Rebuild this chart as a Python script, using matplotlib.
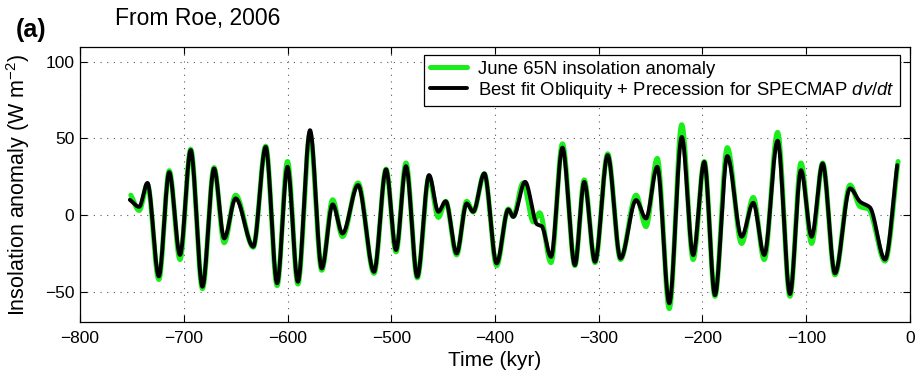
import numpy as np
import matplotlib
matplotlib.use("Agg")
import matplotlib.pyplot as plt

plt.rcParams['font.family'] = ['Liberation Sans', 'DejaVu Sans']
plt.rcParams['mathtext.fontset'] = 'custom'
plt.rcParams['mathtext.rm'] = 'Liberation Sans'
plt.rcParams['mathtext.it'] = 'Liberation Sans:italic'

# ---- data (turning points of each curve) ----
t_fit = [-752, -743, -735, -724, -714, -703.6, -693.3, -682, -670.8, -661, -650, -633,
         -621, -610, -600, -590, -578.3, -567, -556.5, -547, -532, -516.6, -505, -495.4,
         -485.8, -474.9, -463.6, -454.6, -447.5, -437, -427.3, -421, -410.3, -398.4,
         -387.2, -382.4, -371, -359.5, -355, -346, -335, -323, -314, -303.6, -291.4,
         -279, -264, -254.5, -243.6, -232, -220, -209, -198.3, -188, -176.1, -162.3,
         -151.1, -140.5, -127.6, -115.7, -105.1, -94.8, -84.2, -72.3, -57.8, -48, -38.6,
         -24.1, -12.3]
v_fit = [10, 5.4, 21, -40, 28, -26, 42.4, -46.7, 30.4, -15.2, 10.9, -20.6,
         44.5, -44.5, 31.5, -43.5, 55.4, -34.8, 7, -12, 19.6, -37, 29.8, -22.8,
         31.9, -40.2, 26.1, 2.2, 9, -25, 7.6, 2.2, 27.2, -31.5,
         3.7, -1.1, 21.7, -6, -7.2, -27.2, 44, -32.6, 21.7, -30.4, 39.1,
         -28.3, 9.8, -2.2, 31.5, -57.6, 51, -26.1, 34.7, -52.2, 38.5, -14.1,
         8, -26, 48.5, -51.5, 29.3, -14.1, 33.7, -38, 17.4, 8.7, 5,
         -29, 32.6]

t_ins = [-751, -743, -735, -724, -714, -703.6, -693.3, -682, -670.8, -661, -650, -633,
         -621, -610, -600, -590, -578.3, -567, -556.5, -547, -532, -516.6, -505, -495.4,
         -485.8, -474.9, -463.6, -454.6, -447.5, -437, -427.3, -421, -410.3, -398.4,
         -387.2, -382.4, -373, -363, -357, -346, -335, -323, -314, -303.6, -291.4,
         -279, -264, -254.5, -243.6, -232, -220, -209, -198.3, -188, -176.1, -162.3,
         -151.1, -140.5, -127.6, -115.7, -105.1, -94.8, -84.2, -72.3, -57.8, -48, -40,
         -24.1, -11.5]
v_ins = [13, 3, 20, -42, 29, -29, 43, -48, 31, -18, 13, -21,
         45, -46, 35, -45, 53, -36, 10, -14, 21, -38, 30, -24,
         34, -41, 25, -1.5, 9, -26, 9, 2, 27, -33,
         4, -1, 21, -4.5, 1.5, -31, 46.5, -33, 23, -31, 40,
         -29, 13, -7.5, 37, -61, 59, -29, 35, -53, 44, -18.5,
         11.5, -29, 54, -53, 34, -18.5, 34, -39, 19.6, 5.5, 4,
         -30, 35]

labels = ["June 65N insolation anomaly",
          "Best fit Obliquity + Precession for SPECMAP $\\it{dv/dt}$"]
xticks = [-800, -700, -600, -500, -400, -300, -200, -100, 0]
yticks = [-50, 0, 50, 100]


def smooth(x, y, n=3000):
    """Monotone piecewise-cubic (PCHIP) rendering through the turning points."""
    x = np.asarray(x, float)
    y = np.asarray(y, float)
    h = np.diff(x)
    d = np.diff(y) / h
    m = np.zeros_like(y)
    for k in range(1, len(x) - 1):
        if d[k - 1] * d[k] > 0:
            w1 = 2 * h[k] + h[k - 1]
            w2 = h[k] + 2 * h[k - 1]
            m[k] = (w1 + w2) / (w1 / d[k - 1] + w2 / d[k])
    m[0] = d[0]
    m[-1] = d[-1]
    xn = np.linspace(x[0], x[-1], n)
    idx = np.clip(np.searchsorted(x, xn) - 1, 0, len(x) - 2)
    hh = h[idx]
    s = (xn - x[idx]) / hh
    h00 = 2 * s**3 - 3 * s**2 + 1
    h10 = s**3 - 2 * s**2 + s
    h01 = -2 * s**3 + 3 * s**2
    h11 = s**3 - s**2
    yn = h00 * y[idx] + h10 * hh * m[idx] + h01 * y[idx + 1] + h11 * hh * m[idx + 1]
    return xn, yn


W, H = 916, 377
fig = plt.figure(figsize=(W / 100, H / 100), dpi=100)
ax = fig.add_axes([80 / W, 1 - 322.4 / H, 830 / W, 275.9 / H])

xi, yi = smooth(t_ins, v_ins)
xf, yf = smooth(t_fit, v_fit)
ax.plot(xi, yi, color=(0.1, 0.93, 0.1), lw=3.6, label=labels[0], solid_capstyle='round')
ax.plot(xf, yf, color='black', lw=2.8, label=labels[1], solid_capstyle='round')

ax.set_xlim(-800, 0)
ax.set_ylim(-70, 110)
ax.set_xticks(xticks)
ax.set_yticks(yticks)
ax.grid(True, color='0.35', linestyle=(0, (1, 5)), linewidth=0.8)
ax.tick_params(direction='in', length=5, width=0.8, top=True, right=True,
               labelsize=12.5, pad=6)
ax.tick_params(axis='y', pad=4)
for sp in ax.spines.values():
    sp.set_linewidth(0.9)

ax.set_xlabel("Time (kyr)", fontsize=15)
ax.xaxis.set_label_coords(0.5, -0.105)
ax.set_ylabel("Insolation anomaly (W m$^{\\mathregular{-2}}$)", fontsize=15.5)
ax.yaxis.set_label_coords(-0.058, 0.5)

leg = ax.legend(loc='upper right', bbox_to_anchor=(0.988, 0.969), fontsize=13.3,
                frameon=True, fancybox=False, edgecolor='black', framealpha=1,
                borderaxespad=0, handlelength=2.0, handletextpad=0.6,
                borderpad=0.3, labelspacing=0.12)
leg.get_frame().set_linewidth(0.9)

fig.text(115 / W, 1 - 18 / H, "From Roe, 2006", fontsize=16.5, ha='left', va='center')
fig.text(31 / W, 1 - 30 / H, "(a)", fontsize=18, fontweight='bold', ha='center', va='center')

fig.savefig("out.png", dpi=100)
